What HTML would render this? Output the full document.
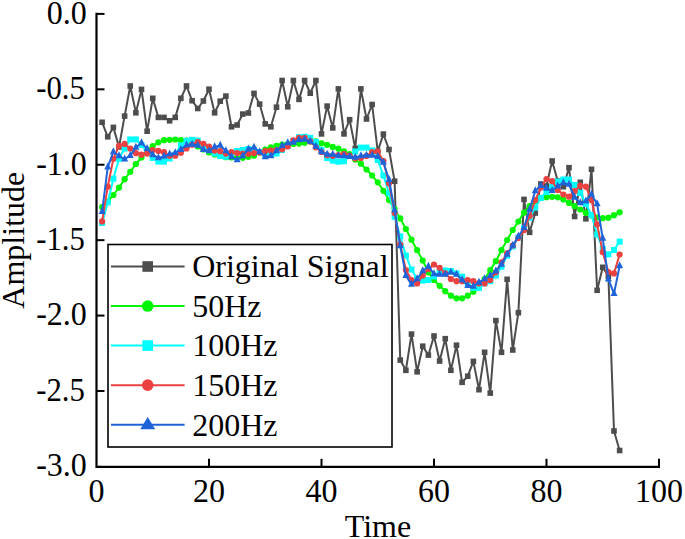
<!DOCTYPE html>
<html><head><meta charset="utf-8"><title>Amplitude vs Time</title>
<style>html,body{margin:0;padding:0;background:#fff;}body{width:685px;height:539px;overflow:hidden;}text{font-family:"Liberation Serif",serif;}</style>
</head><body>
<svg width="685" height="539" viewBox="0 0 685 539" style="display:block;font-family:'Liberation Serif',serif;font-size:32px;fill:#000">
<g><polyline points="102.12,122.30 107.75,136.80 113.38,127.40 119.00,147.00 124.62,116.10 130.25,86.00 135.88,112.80 141.50,89.40 147.12,131.20 152.75,98.30 158.38,117.40 164.00,117.40 169.62,120.80 175.25,117.40 180.88,98.30 186.50,86.00 192.12,100.70 197.75,108.50 203.38,101.00 209.00,89.20 214.62,112.80 220.25,101.20 225.88,96.10 231.50,126.80 237.12,125.00 242.75,114.10 248.38,113.00 254.00,93.40 259.62,104.10 265.25,123.90 270.88,126.80 276.50,107.20 282.12,80.50 287.75,106.80 293.38,80.50 299.00,99.40 304.62,80.50 310.25,93.20 315.88,80.50 321.50,133.90 327.12,106.10 332.75,127.90 338.38,88.90 344.00,133.90 349.62,119.70 355.25,148.40 360.88,88.90 366.50,119.00 372.12,104.50 377.75,151.30 383.38,134.10 389.00,149.50 394.62,181.20 400.25,360.10 405.88,370.30 411.50,334.10 417.12,371.80 422.75,346.20 428.38,355.10 434.00,336.00 439.62,361.00 445.25,338.70 450.88,370.30 456.50,345.20 462.12,382.30 467.75,376.20 473.38,361.40 479.00,389.70 484.62,352.30 490.25,393.10 495.88,320.60 501.50,352.30 507.12,279.30 512.75,350.00 518.38,312.70 524.00,199.40 529.62,232.30 535.25,213.00 540.88,184.00 546.50,186.00 552.12,161.00 557.75,181.00 563.38,186.70 569.00,167.70 574.62,216.50 580.25,182.30 585.88,218.80 591.50,169.30 597.12,290.30 602.75,267.30 608.38,276.20 614.00,431.00 619.62,450.50" fill="none" stroke="#4d4d4d" stroke-width="2.0" stroke-linejoin="round"/><rect x="99.33" y="119.50" width="5.6" height="5.6" fill="#4d4d4d"/><rect x="104.95" y="134.00" width="5.6" height="5.6" fill="#4d4d4d"/><rect x="110.58" y="124.60" width="5.6" height="5.6" fill="#4d4d4d"/><rect x="116.20" y="144.20" width="5.6" height="5.6" fill="#4d4d4d"/><rect x="121.83" y="113.30" width="5.6" height="5.6" fill="#4d4d4d"/><rect x="127.45" y="83.20" width="5.6" height="5.6" fill="#4d4d4d"/><rect x="133.07" y="110.00" width="5.6" height="5.6" fill="#4d4d4d"/><rect x="138.70" y="86.60" width="5.6" height="5.6" fill="#4d4d4d"/><rect x="144.32" y="128.40" width="5.6" height="5.6" fill="#4d4d4d"/><rect x="149.95" y="95.50" width="5.6" height="5.6" fill="#4d4d4d"/><rect x="155.57" y="114.60" width="5.6" height="5.6" fill="#4d4d4d"/><rect x="161.20" y="114.60" width="5.6" height="5.6" fill="#4d4d4d"/><rect x="166.82" y="118.00" width="5.6" height="5.6" fill="#4d4d4d"/><rect x="172.45" y="114.60" width="5.6" height="5.6" fill="#4d4d4d"/><rect x="178.07" y="95.50" width="5.6" height="5.6" fill="#4d4d4d"/><rect x="183.70" y="83.20" width="5.6" height="5.6" fill="#4d4d4d"/><rect x="189.32" y="97.90" width="5.6" height="5.6" fill="#4d4d4d"/><rect x="194.95" y="105.70" width="5.6" height="5.6" fill="#4d4d4d"/><rect x="200.57" y="98.20" width="5.6" height="5.6" fill="#4d4d4d"/><rect x="206.20" y="86.40" width="5.6" height="5.6" fill="#4d4d4d"/><rect x="211.82" y="110.00" width="5.6" height="5.6" fill="#4d4d4d"/><rect x="217.45" y="98.40" width="5.6" height="5.6" fill="#4d4d4d"/><rect x="223.07" y="93.30" width="5.6" height="5.6" fill="#4d4d4d"/><rect x="228.70" y="124.00" width="5.6" height="5.6" fill="#4d4d4d"/><rect x="234.32" y="122.20" width="5.6" height="5.6" fill="#4d4d4d"/><rect x="239.95" y="111.30" width="5.6" height="5.6" fill="#4d4d4d"/><rect x="245.57" y="110.20" width="5.6" height="5.6" fill="#4d4d4d"/><rect x="251.20" y="90.60" width="5.6" height="5.6" fill="#4d4d4d"/><rect x="256.82" y="101.30" width="5.6" height="5.6" fill="#4d4d4d"/><rect x="262.45" y="121.10" width="5.6" height="5.6" fill="#4d4d4d"/><rect x="268.07" y="124.00" width="5.6" height="5.6" fill="#4d4d4d"/><rect x="273.70" y="104.40" width="5.6" height="5.6" fill="#4d4d4d"/><rect x="279.32" y="77.70" width="5.6" height="5.6" fill="#4d4d4d"/><rect x="284.95" y="104.00" width="5.6" height="5.6" fill="#4d4d4d"/><rect x="290.57" y="77.70" width="5.6" height="5.6" fill="#4d4d4d"/><rect x="296.20" y="96.60" width="5.6" height="5.6" fill="#4d4d4d"/><rect x="301.82" y="77.70" width="5.6" height="5.6" fill="#4d4d4d"/><rect x="307.45" y="90.40" width="5.6" height="5.6" fill="#4d4d4d"/><rect x="313.07" y="77.70" width="5.6" height="5.6" fill="#4d4d4d"/><rect x="318.70" y="131.10" width="5.6" height="5.6" fill="#4d4d4d"/><rect x="324.32" y="103.30" width="5.6" height="5.6" fill="#4d4d4d"/><rect x="329.95" y="125.10" width="5.6" height="5.6" fill="#4d4d4d"/><rect x="335.57" y="86.10" width="5.6" height="5.6" fill="#4d4d4d"/><rect x="341.20" y="131.10" width="5.6" height="5.6" fill="#4d4d4d"/><rect x="346.82" y="116.90" width="5.6" height="5.6" fill="#4d4d4d"/><rect x="352.45" y="145.60" width="5.6" height="5.6" fill="#4d4d4d"/><rect x="358.07" y="86.10" width="5.6" height="5.6" fill="#4d4d4d"/><rect x="363.70" y="116.20" width="5.6" height="5.6" fill="#4d4d4d"/><rect x="369.32" y="101.70" width="5.6" height="5.6" fill="#4d4d4d"/><rect x="374.95" y="148.50" width="5.6" height="5.6" fill="#4d4d4d"/><rect x="380.57" y="131.30" width="5.6" height="5.6" fill="#4d4d4d"/><rect x="386.20" y="146.70" width="5.6" height="5.6" fill="#4d4d4d"/><rect x="391.82" y="178.40" width="5.6" height="5.6" fill="#4d4d4d"/><rect x="397.45" y="357.30" width="5.6" height="5.6" fill="#4d4d4d"/><rect x="403.07" y="367.50" width="5.6" height="5.6" fill="#4d4d4d"/><rect x="408.70" y="331.30" width="5.6" height="5.6" fill="#4d4d4d"/><rect x="414.32" y="369.00" width="5.6" height="5.6" fill="#4d4d4d"/><rect x="419.95" y="343.40" width="5.6" height="5.6" fill="#4d4d4d"/><rect x="425.57" y="352.30" width="5.6" height="5.6" fill="#4d4d4d"/><rect x="431.20" y="333.20" width="5.6" height="5.6" fill="#4d4d4d"/><rect x="436.82" y="358.20" width="5.6" height="5.6" fill="#4d4d4d"/><rect x="442.45" y="335.90" width="5.6" height="5.6" fill="#4d4d4d"/><rect x="448.07" y="367.50" width="5.6" height="5.6" fill="#4d4d4d"/><rect x="453.70" y="342.40" width="5.6" height="5.6" fill="#4d4d4d"/><rect x="459.32" y="379.50" width="5.6" height="5.6" fill="#4d4d4d"/><rect x="464.95" y="373.40" width="5.6" height="5.6" fill="#4d4d4d"/><rect x="470.57" y="358.60" width="5.6" height="5.6" fill="#4d4d4d"/><rect x="476.20" y="386.90" width="5.6" height="5.6" fill="#4d4d4d"/><rect x="481.82" y="349.50" width="5.6" height="5.6" fill="#4d4d4d"/><rect x="487.45" y="390.30" width="5.6" height="5.6" fill="#4d4d4d"/><rect x="493.07" y="317.80" width="5.6" height="5.6" fill="#4d4d4d"/><rect x="498.70" y="349.50" width="5.6" height="5.6" fill="#4d4d4d"/><rect x="504.32" y="276.50" width="5.6" height="5.6" fill="#4d4d4d"/><rect x="509.95" y="347.20" width="5.6" height="5.6" fill="#4d4d4d"/><rect x="515.58" y="309.90" width="5.6" height="5.6" fill="#4d4d4d"/><rect x="521.20" y="196.60" width="5.6" height="5.6" fill="#4d4d4d"/><rect x="526.83" y="229.50" width="5.6" height="5.6" fill="#4d4d4d"/><rect x="532.45" y="210.20" width="5.6" height="5.6" fill="#4d4d4d"/><rect x="538.08" y="181.20" width="5.6" height="5.6" fill="#4d4d4d"/><rect x="543.70" y="183.20" width="5.6" height="5.6" fill="#4d4d4d"/><rect x="549.33" y="158.20" width="5.6" height="5.6" fill="#4d4d4d"/><rect x="554.95" y="178.20" width="5.6" height="5.6" fill="#4d4d4d"/><rect x="560.58" y="183.90" width="5.6" height="5.6" fill="#4d4d4d"/><rect x="566.20" y="164.90" width="5.6" height="5.6" fill="#4d4d4d"/><rect x="571.83" y="213.70" width="5.6" height="5.6" fill="#4d4d4d"/><rect x="577.45" y="179.50" width="5.6" height="5.6" fill="#4d4d4d"/><rect x="583.08" y="216.00" width="5.6" height="5.6" fill="#4d4d4d"/><rect x="588.70" y="166.50" width="5.6" height="5.6" fill="#4d4d4d"/><rect x="594.33" y="287.50" width="5.6" height="5.6" fill="#4d4d4d"/><rect x="599.95" y="264.50" width="5.6" height="5.6" fill="#4d4d4d"/><rect x="605.58" y="273.40" width="5.6" height="5.6" fill="#4d4d4d"/><rect x="611.20" y="428.20" width="5.6" height="5.6" fill="#4d4d4d"/><rect x="616.83" y="447.70" width="5.6" height="5.6" fill="#4d4d4d"/><polyline points="102.12,207.10 107.75,201.50 113.38,195.00 119.00,187.60 124.62,179.20 130.25,171.80 135.88,164.00 141.50,157.50 147.12,150.40 152.75,146.00 158.38,142.30 164.00,140.20 169.62,139.80 175.25,139.50 180.88,140.20 186.50,140.70 192.12,143.00 197.75,146.50 203.38,149.50 209.00,152.50 214.62,154.50 220.25,156.00 225.88,157.20 231.50,157.50 237.12,157.50 242.75,157.80 248.38,156.80 254.00,155.70 259.62,152.50 265.25,149.50 270.88,147.30 276.50,145.80 282.12,144.50 287.75,144.00 293.38,144.00 299.00,143.60 304.62,142.80 310.25,141.50 315.88,141.30 321.50,143.30 327.12,144.80 332.75,146.90 338.38,148.70 344.00,151.30 349.62,154.00 355.25,159.60 360.88,163.70 366.50,169.50 372.12,175.50 377.75,182.30 383.38,190.80 389.00,200.10 394.62,209.00 400.25,218.40 405.88,229.00 411.50,239.70 417.12,250.20 422.75,260.50 428.38,272.30 434.00,280.00 439.62,285.80 445.25,291.20 450.88,295.70 456.50,298.30 462.12,298.30 467.75,295.70 473.38,291.70 479.00,285.60 484.62,279.00 490.25,270.00 495.88,261.20 501.50,250.00 507.12,240.00 512.75,230.00 518.38,221.50 524.00,212.60 529.62,206.00 535.25,201.00 540.88,197.80 546.50,197.20 552.12,196.80 557.75,197.30 563.38,199.50 569.00,202.90 574.62,206.20 580.25,209.50 585.88,212.90 591.50,215.50 597.12,217.50 602.75,218.20 608.38,217.70 614.00,215.20 619.62,212.30" fill="none" stroke="#00f500" stroke-width="2.0" stroke-linejoin="round"/><circle cx="102.12" cy="207.10" r="3.1" fill="#00f500"/><circle cx="107.75" cy="201.50" r="3.1" fill="#00f500"/><circle cx="113.38" cy="195.00" r="3.1" fill="#00f500"/><circle cx="119.00" cy="187.60" r="3.1" fill="#00f500"/><circle cx="124.62" cy="179.20" r="3.1" fill="#00f500"/><circle cx="130.25" cy="171.80" r="3.1" fill="#00f500"/><circle cx="135.88" cy="164.00" r="3.1" fill="#00f500"/><circle cx="141.50" cy="157.50" r="3.1" fill="#00f500"/><circle cx="147.12" cy="150.40" r="3.1" fill="#00f500"/><circle cx="152.75" cy="146.00" r="3.1" fill="#00f500"/><circle cx="158.38" cy="142.30" r="3.1" fill="#00f500"/><circle cx="164.00" cy="140.20" r="3.1" fill="#00f500"/><circle cx="169.62" cy="139.80" r="3.1" fill="#00f500"/><circle cx="175.25" cy="139.50" r="3.1" fill="#00f500"/><circle cx="180.88" cy="140.20" r="3.1" fill="#00f500"/><circle cx="186.50" cy="140.70" r="3.1" fill="#00f500"/><circle cx="192.12" cy="143.00" r="3.1" fill="#00f500"/><circle cx="197.75" cy="146.50" r="3.1" fill="#00f500"/><circle cx="203.38" cy="149.50" r="3.1" fill="#00f500"/><circle cx="209.00" cy="152.50" r="3.1" fill="#00f500"/><circle cx="214.62" cy="154.50" r="3.1" fill="#00f500"/><circle cx="220.25" cy="156.00" r="3.1" fill="#00f500"/><circle cx="225.88" cy="157.20" r="3.1" fill="#00f500"/><circle cx="231.50" cy="157.50" r="3.1" fill="#00f500"/><circle cx="237.12" cy="157.50" r="3.1" fill="#00f500"/><circle cx="242.75" cy="157.80" r="3.1" fill="#00f500"/><circle cx="248.38" cy="156.80" r="3.1" fill="#00f500"/><circle cx="254.00" cy="155.70" r="3.1" fill="#00f500"/><circle cx="259.62" cy="152.50" r="3.1" fill="#00f500"/><circle cx="265.25" cy="149.50" r="3.1" fill="#00f500"/><circle cx="270.88" cy="147.30" r="3.1" fill="#00f500"/><circle cx="276.50" cy="145.80" r="3.1" fill="#00f500"/><circle cx="282.12" cy="144.50" r="3.1" fill="#00f500"/><circle cx="287.75" cy="144.00" r="3.1" fill="#00f500"/><circle cx="293.38" cy="144.00" r="3.1" fill="#00f500"/><circle cx="299.00" cy="143.60" r="3.1" fill="#00f500"/><circle cx="304.62" cy="142.80" r="3.1" fill="#00f500"/><circle cx="310.25" cy="141.50" r="3.1" fill="#00f500"/><circle cx="315.88" cy="141.30" r="3.1" fill="#00f500"/><circle cx="321.50" cy="143.30" r="3.1" fill="#00f500"/><circle cx="327.12" cy="144.80" r="3.1" fill="#00f500"/><circle cx="332.75" cy="146.90" r="3.1" fill="#00f500"/><circle cx="338.38" cy="148.70" r="3.1" fill="#00f500"/><circle cx="344.00" cy="151.30" r="3.1" fill="#00f500"/><circle cx="349.62" cy="154.00" r="3.1" fill="#00f500"/><circle cx="355.25" cy="159.60" r="3.1" fill="#00f500"/><circle cx="360.88" cy="163.70" r="3.1" fill="#00f500"/><circle cx="366.50" cy="169.50" r="3.1" fill="#00f500"/><circle cx="372.12" cy="175.50" r="3.1" fill="#00f500"/><circle cx="377.75" cy="182.30" r="3.1" fill="#00f500"/><circle cx="383.38" cy="190.80" r="3.1" fill="#00f500"/><circle cx="389.00" cy="200.10" r="3.1" fill="#00f500"/><circle cx="394.62" cy="209.00" r="3.1" fill="#00f500"/><circle cx="400.25" cy="218.40" r="3.1" fill="#00f500"/><circle cx="405.88" cy="229.00" r="3.1" fill="#00f500"/><circle cx="411.50" cy="239.70" r="3.1" fill="#00f500"/><circle cx="417.12" cy="250.20" r="3.1" fill="#00f500"/><circle cx="422.75" cy="260.50" r="3.1" fill="#00f500"/><circle cx="428.38" cy="272.30" r="3.1" fill="#00f500"/><circle cx="434.00" cy="280.00" r="3.1" fill="#00f500"/><circle cx="439.62" cy="285.80" r="3.1" fill="#00f500"/><circle cx="445.25" cy="291.20" r="3.1" fill="#00f500"/><circle cx="450.88" cy="295.70" r="3.1" fill="#00f500"/><circle cx="456.50" cy="298.30" r="3.1" fill="#00f500"/><circle cx="462.12" cy="298.30" r="3.1" fill="#00f500"/><circle cx="467.75" cy="295.70" r="3.1" fill="#00f500"/><circle cx="473.38" cy="291.70" r="3.1" fill="#00f500"/><circle cx="479.00" cy="285.60" r="3.1" fill="#00f500"/><circle cx="484.62" cy="279.00" r="3.1" fill="#00f500"/><circle cx="490.25" cy="270.00" r="3.1" fill="#00f500"/><circle cx="495.88" cy="261.20" r="3.1" fill="#00f500"/><circle cx="501.50" cy="250.00" r="3.1" fill="#00f500"/><circle cx="507.12" cy="240.00" r="3.1" fill="#00f500"/><circle cx="512.75" cy="230.00" r="3.1" fill="#00f500"/><circle cx="518.38" cy="221.50" r="3.1" fill="#00f500"/><circle cx="524.00" cy="212.60" r="3.1" fill="#00f500"/><circle cx="529.62" cy="206.00" r="3.1" fill="#00f500"/><circle cx="535.25" cy="201.00" r="3.1" fill="#00f500"/><circle cx="540.88" cy="197.80" r="3.1" fill="#00f500"/><circle cx="546.50" cy="197.20" r="3.1" fill="#00f500"/><circle cx="552.12" cy="196.80" r="3.1" fill="#00f500"/><circle cx="557.75" cy="197.30" r="3.1" fill="#00f500"/><circle cx="563.38" cy="199.50" r="3.1" fill="#00f500"/><circle cx="569.00" cy="202.90" r="3.1" fill="#00f500"/><circle cx="574.62" cy="206.20" r="3.1" fill="#00f500"/><circle cx="580.25" cy="209.50" r="3.1" fill="#00f500"/><circle cx="585.88" cy="212.90" r="3.1" fill="#00f500"/><circle cx="591.50" cy="215.50" r="3.1" fill="#00f500"/><circle cx="597.12" cy="217.50" r="3.1" fill="#00f500"/><circle cx="602.75" cy="218.20" r="3.1" fill="#00f500"/><circle cx="608.38" cy="217.70" r="3.1" fill="#00f500"/><circle cx="614.00" cy="215.20" r="3.1" fill="#00f500"/><circle cx="619.62" cy="212.30" r="3.1" fill="#00f500"/><polyline points="102.12,222.90 107.75,202.40 113.38,178.70 119.00,158.80 124.62,148.60 130.25,139.40 135.88,139.40 141.50,144.90 147.12,152.30 152.75,157.90 158.38,161.60 164.00,161.60 169.62,158.50 175.25,154.50 180.88,145.30 186.50,140.80 192.12,139.80 197.75,140.50 203.38,146.00 209.00,150.20 214.62,153.50 220.25,156.00 225.88,156.80 231.50,153.00 237.12,151.00 242.75,150.00 248.38,149.00 254.00,150.00 259.62,152.00 265.25,154.60 270.88,154.50 276.50,153.50 282.12,150.00 287.75,146.00 293.38,141.00 299.00,137.20 304.62,136.80 310.25,137.80 315.88,141.90 321.50,150.00 327.12,158.10 332.75,160.70 338.38,161.70 344.00,161.20 349.62,156.00 355.25,151.50 360.88,147.60 366.50,147.60 372.12,150.40 377.75,160.00 383.38,175.50 389.00,193.00 394.62,216.80 400.25,236.40 405.88,255.60 411.50,269.50 417.12,279.00 422.75,280.60 428.38,280.00 434.00,276.50 439.62,272.00 445.25,270.50 450.88,271.00 456.50,273.40 462.12,276.70 467.75,283.40 473.38,287.90 479.00,287.90 484.62,283.40 490.25,281.20 495.88,275.60 501.50,266.70 507.12,255.60 512.75,246.50 518.38,237.50 524.00,228.50 529.62,217.70 535.25,207.60 540.88,198.00 546.50,192.00 552.12,187.00 557.75,181.50 563.38,179.50 569.00,179.50 574.62,185.00 580.25,193.00 585.88,204.00 591.50,215.00 597.12,234.40 602.75,248.90 608.38,254.40 614.00,250.00 619.62,241.60" fill="none" stroke="#00ffff" stroke-width="2.0" stroke-linejoin="round"/><rect x="99.12" y="219.90" width="6.0" height="6.0" fill="#00ffff"/><rect x="104.75" y="199.40" width="6.0" height="6.0" fill="#00ffff"/><rect x="110.38" y="175.70" width="6.0" height="6.0" fill="#00ffff"/><rect x="116.00" y="155.80" width="6.0" height="6.0" fill="#00ffff"/><rect x="121.62" y="145.60" width="6.0" height="6.0" fill="#00ffff"/><rect x="127.25" y="136.40" width="6.0" height="6.0" fill="#00ffff"/><rect x="132.88" y="136.40" width="6.0" height="6.0" fill="#00ffff"/><rect x="138.50" y="141.90" width="6.0" height="6.0" fill="#00ffff"/><rect x="144.12" y="149.30" width="6.0" height="6.0" fill="#00ffff"/><rect x="149.75" y="154.90" width="6.0" height="6.0" fill="#00ffff"/><rect x="155.38" y="158.60" width="6.0" height="6.0" fill="#00ffff"/><rect x="161.00" y="158.60" width="6.0" height="6.0" fill="#00ffff"/><rect x="166.62" y="155.50" width="6.0" height="6.0" fill="#00ffff"/><rect x="172.25" y="151.50" width="6.0" height="6.0" fill="#00ffff"/><rect x="177.88" y="142.30" width="6.0" height="6.0" fill="#00ffff"/><rect x="183.50" y="137.80" width="6.0" height="6.0" fill="#00ffff"/><rect x="189.12" y="136.80" width="6.0" height="6.0" fill="#00ffff"/><rect x="194.75" y="137.50" width="6.0" height="6.0" fill="#00ffff"/><rect x="200.38" y="143.00" width="6.0" height="6.0" fill="#00ffff"/><rect x="206.00" y="147.20" width="6.0" height="6.0" fill="#00ffff"/><rect x="211.62" y="150.50" width="6.0" height="6.0" fill="#00ffff"/><rect x="217.25" y="153.00" width="6.0" height="6.0" fill="#00ffff"/><rect x="222.88" y="153.80" width="6.0" height="6.0" fill="#00ffff"/><rect x="228.50" y="150.00" width="6.0" height="6.0" fill="#00ffff"/><rect x="234.12" y="148.00" width="6.0" height="6.0" fill="#00ffff"/><rect x="239.75" y="147.00" width="6.0" height="6.0" fill="#00ffff"/><rect x="245.38" y="146.00" width="6.0" height="6.0" fill="#00ffff"/><rect x="251.00" y="147.00" width="6.0" height="6.0" fill="#00ffff"/><rect x="256.62" y="149.00" width="6.0" height="6.0" fill="#00ffff"/><rect x="262.25" y="151.60" width="6.0" height="6.0" fill="#00ffff"/><rect x="267.88" y="151.50" width="6.0" height="6.0" fill="#00ffff"/><rect x="273.50" y="150.50" width="6.0" height="6.0" fill="#00ffff"/><rect x="279.12" y="147.00" width="6.0" height="6.0" fill="#00ffff"/><rect x="284.75" y="143.00" width="6.0" height="6.0" fill="#00ffff"/><rect x="290.38" y="138.00" width="6.0" height="6.0" fill="#00ffff"/><rect x="296.00" y="134.20" width="6.0" height="6.0" fill="#00ffff"/><rect x="301.62" y="133.80" width="6.0" height="6.0" fill="#00ffff"/><rect x="307.25" y="134.80" width="6.0" height="6.0" fill="#00ffff"/><rect x="312.88" y="138.90" width="6.0" height="6.0" fill="#00ffff"/><rect x="318.50" y="147.00" width="6.0" height="6.0" fill="#00ffff"/><rect x="324.12" y="155.10" width="6.0" height="6.0" fill="#00ffff"/><rect x="329.75" y="157.70" width="6.0" height="6.0" fill="#00ffff"/><rect x="335.38" y="158.70" width="6.0" height="6.0" fill="#00ffff"/><rect x="341.00" y="158.20" width="6.0" height="6.0" fill="#00ffff"/><rect x="346.62" y="153.00" width="6.0" height="6.0" fill="#00ffff"/><rect x="352.25" y="148.50" width="6.0" height="6.0" fill="#00ffff"/><rect x="357.88" y="144.60" width="6.0" height="6.0" fill="#00ffff"/><rect x="363.50" y="144.60" width="6.0" height="6.0" fill="#00ffff"/><rect x="369.12" y="147.40" width="6.0" height="6.0" fill="#00ffff"/><rect x="374.75" y="157.00" width="6.0" height="6.0" fill="#00ffff"/><rect x="380.38" y="172.50" width="6.0" height="6.0" fill="#00ffff"/><rect x="386.00" y="190.00" width="6.0" height="6.0" fill="#00ffff"/><rect x="391.62" y="213.80" width="6.0" height="6.0" fill="#00ffff"/><rect x="397.25" y="233.40" width="6.0" height="6.0" fill="#00ffff"/><rect x="402.88" y="252.60" width="6.0" height="6.0" fill="#00ffff"/><rect x="408.50" y="266.50" width="6.0" height="6.0" fill="#00ffff"/><rect x="414.12" y="276.00" width="6.0" height="6.0" fill="#00ffff"/><rect x="419.75" y="277.60" width="6.0" height="6.0" fill="#00ffff"/><rect x="425.38" y="277.00" width="6.0" height="6.0" fill="#00ffff"/><rect x="431.00" y="273.50" width="6.0" height="6.0" fill="#00ffff"/><rect x="436.62" y="269.00" width="6.0" height="6.0" fill="#00ffff"/><rect x="442.25" y="267.50" width="6.0" height="6.0" fill="#00ffff"/><rect x="447.88" y="268.00" width="6.0" height="6.0" fill="#00ffff"/><rect x="453.50" y="270.40" width="6.0" height="6.0" fill="#00ffff"/><rect x="459.12" y="273.70" width="6.0" height="6.0" fill="#00ffff"/><rect x="464.75" y="280.40" width="6.0" height="6.0" fill="#00ffff"/><rect x="470.38" y="284.90" width="6.0" height="6.0" fill="#00ffff"/><rect x="476.00" y="284.90" width="6.0" height="6.0" fill="#00ffff"/><rect x="481.62" y="280.40" width="6.0" height="6.0" fill="#00ffff"/><rect x="487.25" y="278.20" width="6.0" height="6.0" fill="#00ffff"/><rect x="492.88" y="272.60" width="6.0" height="6.0" fill="#00ffff"/><rect x="498.50" y="263.70" width="6.0" height="6.0" fill="#00ffff"/><rect x="504.12" y="252.60" width="6.0" height="6.0" fill="#00ffff"/><rect x="509.75" y="243.50" width="6.0" height="6.0" fill="#00ffff"/><rect x="515.38" y="234.50" width="6.0" height="6.0" fill="#00ffff"/><rect x="521.00" y="225.50" width="6.0" height="6.0" fill="#00ffff"/><rect x="526.62" y="214.70" width="6.0" height="6.0" fill="#00ffff"/><rect x="532.25" y="204.60" width="6.0" height="6.0" fill="#00ffff"/><rect x="537.88" y="195.00" width="6.0" height="6.0" fill="#00ffff"/><rect x="543.50" y="189.00" width="6.0" height="6.0" fill="#00ffff"/><rect x="549.12" y="184.00" width="6.0" height="6.0" fill="#00ffff"/><rect x="554.75" y="178.50" width="6.0" height="6.0" fill="#00ffff"/><rect x="560.38" y="176.50" width="6.0" height="6.0" fill="#00ffff"/><rect x="566.00" y="176.50" width="6.0" height="6.0" fill="#00ffff"/><rect x="571.62" y="182.00" width="6.0" height="6.0" fill="#00ffff"/><rect x="577.25" y="190.00" width="6.0" height="6.0" fill="#00ffff"/><rect x="582.88" y="201.00" width="6.0" height="6.0" fill="#00ffff"/><rect x="588.50" y="212.00" width="6.0" height="6.0" fill="#00ffff"/><rect x="594.12" y="231.40" width="6.0" height="6.0" fill="#00ffff"/><rect x="599.75" y="245.90" width="6.0" height="6.0" fill="#00ffff"/><rect x="605.38" y="251.40" width="6.0" height="6.0" fill="#00ffff"/><rect x="611.00" y="247.00" width="6.0" height="6.0" fill="#00ffff"/><rect x="616.62" y="238.60" width="6.0" height="6.0" fill="#00ffff"/><polyline points="102.12,221.40 107.75,186.70 113.38,158.80 119.00,145.80 124.62,143.90 130.25,148.60 135.88,153.20 141.50,154.70 147.12,153.60 152.75,150.00 158.38,150.90 164.00,152.20 169.62,155.80 175.25,155.70 180.88,152.70 186.50,148.40 192.12,144.70 197.75,142.00 203.38,143.80 209.00,146.50 214.62,150.60 220.25,151.20 225.88,153.60 231.50,152.00 237.12,153.00 242.75,153.50 248.38,153.80 254.00,153.10 259.62,152.50 265.25,151.00 270.88,150.50 276.50,150.00 282.12,149.30 287.75,146.50 293.38,140.30 299.00,137.80 304.62,137.80 310.25,141.40 315.88,147.30 321.50,152.00 327.12,155.20 332.75,155.80 338.38,155.00 344.00,154.00 349.62,155.50 355.25,158.30 360.88,158.00 366.50,156.00 372.12,152.00 377.75,151.50 383.38,161.00 389.00,183.40 394.62,213.00 400.25,244.50 405.88,270.00 411.50,280.00 417.12,283.40 422.75,275.60 428.38,269.00 434.00,264.50 439.62,267.80 445.25,273.40 450.88,279.00 456.50,281.20 462.12,281.20 467.75,280.00 473.38,281.20 479.00,283.40 484.62,283.40 490.25,280.00 495.88,272.30 501.50,262.30 507.12,253.40 512.75,245.50 518.38,238.00 524.00,230.20 529.62,216.00 535.25,200.10 540.88,187.60 546.50,179.00 552.12,181.20 557.75,190.00 563.38,194.50 569.00,196.70 574.62,191.20 580.25,185.60 585.88,186.70 591.50,200.00 597.12,224.40 602.75,252.20 608.38,272.00 614.00,273.40 619.62,254.50" fill="none" stroke="#eb4141" stroke-width="2.0" stroke-linejoin="round"/><circle cx="102.12" cy="221.40" r="3.1" fill="#eb4141"/><circle cx="107.75" cy="186.70" r="3.1" fill="#eb4141"/><circle cx="113.38" cy="158.80" r="3.1" fill="#eb4141"/><circle cx="119.00" cy="145.80" r="3.1" fill="#eb4141"/><circle cx="124.62" cy="143.90" r="3.1" fill="#eb4141"/><circle cx="130.25" cy="148.60" r="3.1" fill="#eb4141"/><circle cx="135.88" cy="153.20" r="3.1" fill="#eb4141"/><circle cx="141.50" cy="154.70" r="3.1" fill="#eb4141"/><circle cx="147.12" cy="153.60" r="3.1" fill="#eb4141"/><circle cx="152.75" cy="150.00" r="3.1" fill="#eb4141"/><circle cx="158.38" cy="150.90" r="3.1" fill="#eb4141"/><circle cx="164.00" cy="152.20" r="3.1" fill="#eb4141"/><circle cx="169.62" cy="155.80" r="3.1" fill="#eb4141"/><circle cx="175.25" cy="155.70" r="3.1" fill="#eb4141"/><circle cx="180.88" cy="152.70" r="3.1" fill="#eb4141"/><circle cx="186.50" cy="148.40" r="3.1" fill="#eb4141"/><circle cx="192.12" cy="144.70" r="3.1" fill="#eb4141"/><circle cx="197.75" cy="142.00" r="3.1" fill="#eb4141"/><circle cx="203.38" cy="143.80" r="3.1" fill="#eb4141"/><circle cx="209.00" cy="146.50" r="3.1" fill="#eb4141"/><circle cx="214.62" cy="150.60" r="3.1" fill="#eb4141"/><circle cx="220.25" cy="151.20" r="3.1" fill="#eb4141"/><circle cx="225.88" cy="153.60" r="3.1" fill="#eb4141"/><circle cx="231.50" cy="152.00" r="3.1" fill="#eb4141"/><circle cx="237.12" cy="153.00" r="3.1" fill="#eb4141"/><circle cx="242.75" cy="153.50" r="3.1" fill="#eb4141"/><circle cx="248.38" cy="153.80" r="3.1" fill="#eb4141"/><circle cx="254.00" cy="153.10" r="3.1" fill="#eb4141"/><circle cx="259.62" cy="152.50" r="3.1" fill="#eb4141"/><circle cx="265.25" cy="151.00" r="3.1" fill="#eb4141"/><circle cx="270.88" cy="150.50" r="3.1" fill="#eb4141"/><circle cx="276.50" cy="150.00" r="3.1" fill="#eb4141"/><circle cx="282.12" cy="149.30" r="3.1" fill="#eb4141"/><circle cx="287.75" cy="146.50" r="3.1" fill="#eb4141"/><circle cx="293.38" cy="140.30" r="3.1" fill="#eb4141"/><circle cx="299.00" cy="137.80" r="3.1" fill="#eb4141"/><circle cx="304.62" cy="137.80" r="3.1" fill="#eb4141"/><circle cx="310.25" cy="141.40" r="3.1" fill="#eb4141"/><circle cx="315.88" cy="147.30" r="3.1" fill="#eb4141"/><circle cx="321.50" cy="152.00" r="3.1" fill="#eb4141"/><circle cx="327.12" cy="155.20" r="3.1" fill="#eb4141"/><circle cx="332.75" cy="155.80" r="3.1" fill="#eb4141"/><circle cx="338.38" cy="155.00" r="3.1" fill="#eb4141"/><circle cx="344.00" cy="154.00" r="3.1" fill="#eb4141"/><circle cx="349.62" cy="155.50" r="3.1" fill="#eb4141"/><circle cx="355.25" cy="158.30" r="3.1" fill="#eb4141"/><circle cx="360.88" cy="158.00" r="3.1" fill="#eb4141"/><circle cx="366.50" cy="156.00" r="3.1" fill="#eb4141"/><circle cx="372.12" cy="152.00" r="3.1" fill="#eb4141"/><circle cx="377.75" cy="151.50" r="3.1" fill="#eb4141"/><circle cx="383.38" cy="161.00" r="3.1" fill="#eb4141"/><circle cx="389.00" cy="183.40" r="3.1" fill="#eb4141"/><circle cx="394.62" cy="213.00" r="3.1" fill="#eb4141"/><circle cx="400.25" cy="244.50" r="3.1" fill="#eb4141"/><circle cx="405.88" cy="270.00" r="3.1" fill="#eb4141"/><circle cx="411.50" cy="280.00" r="3.1" fill="#eb4141"/><circle cx="417.12" cy="283.40" r="3.1" fill="#eb4141"/><circle cx="422.75" cy="275.60" r="3.1" fill="#eb4141"/><circle cx="428.38" cy="269.00" r="3.1" fill="#eb4141"/><circle cx="434.00" cy="264.50" r="3.1" fill="#eb4141"/><circle cx="439.62" cy="267.80" r="3.1" fill="#eb4141"/><circle cx="445.25" cy="273.40" r="3.1" fill="#eb4141"/><circle cx="450.88" cy="279.00" r="3.1" fill="#eb4141"/><circle cx="456.50" cy="281.20" r="3.1" fill="#eb4141"/><circle cx="462.12" cy="281.20" r="3.1" fill="#eb4141"/><circle cx="467.75" cy="280.00" r="3.1" fill="#eb4141"/><circle cx="473.38" cy="281.20" r="3.1" fill="#eb4141"/><circle cx="479.00" cy="283.40" r="3.1" fill="#eb4141"/><circle cx="484.62" cy="283.40" r="3.1" fill="#eb4141"/><circle cx="490.25" cy="280.00" r="3.1" fill="#eb4141"/><circle cx="495.88" cy="272.30" r="3.1" fill="#eb4141"/><circle cx="501.50" cy="262.30" r="3.1" fill="#eb4141"/><circle cx="507.12" cy="253.40" r="3.1" fill="#eb4141"/><circle cx="512.75" cy="245.50" r="3.1" fill="#eb4141"/><circle cx="518.38" cy="238.00" r="3.1" fill="#eb4141"/><circle cx="524.00" cy="230.20" r="3.1" fill="#eb4141"/><circle cx="529.62" cy="216.00" r="3.1" fill="#eb4141"/><circle cx="535.25" cy="200.10" r="3.1" fill="#eb4141"/><circle cx="540.88" cy="187.60" r="3.1" fill="#eb4141"/><circle cx="546.50" cy="179.00" r="3.1" fill="#eb4141"/><circle cx="552.12" cy="181.20" r="3.1" fill="#eb4141"/><circle cx="557.75" cy="190.00" r="3.1" fill="#eb4141"/><circle cx="563.38" cy="194.50" r="3.1" fill="#eb4141"/><circle cx="569.00" cy="196.70" r="3.1" fill="#eb4141"/><circle cx="574.62" cy="191.20" r="3.1" fill="#eb4141"/><circle cx="580.25" cy="185.60" r="3.1" fill="#eb4141"/><circle cx="585.88" cy="186.70" r="3.1" fill="#eb4141"/><circle cx="591.50" cy="200.00" r="3.1" fill="#eb4141"/><circle cx="597.12" cy="224.40" r="3.1" fill="#eb4141"/><circle cx="602.75" cy="252.20" r="3.1" fill="#eb4141"/><circle cx="608.38" cy="272.00" r="3.1" fill="#eb4141"/><circle cx="614.00" cy="273.40" r="3.1" fill="#eb4141"/><circle cx="619.62" cy="254.50" r="3.1" fill="#eb4141"/><polyline points="102.12,211.70 107.75,167.20 113.38,151.90 119.00,156.00 124.62,159.20 130.25,155.60 135.88,147.50 141.50,143.00 147.12,148.60 152.75,155.00 158.38,158.00 164.00,156.50 169.62,154.20 175.25,152.80 180.88,149.60 186.50,145.10 192.12,144.50 197.75,145.50 203.38,149.60 209.00,151.00 214.62,147.00 220.25,145.50 225.88,151.00 231.50,157.00 237.12,160.00 242.75,156.00 248.38,149.20 254.00,147.50 259.62,152.00 265.25,157.00 270.88,156.00 276.50,151.00 282.12,145.60 287.75,143.00 293.38,142.50 299.00,140.00 304.62,139.50 310.25,141.50 315.88,146.30 321.50,152.00 327.12,154.50 332.75,154.50 338.38,156.00 344.00,156.00 349.62,156.60 355.25,157.50 360.88,155.80 366.50,155.50 372.12,155.50 377.75,156.70 383.38,162.30 389.00,179.60 394.62,210.10 400.25,246.00 405.88,275.60 411.50,284.50 417.12,279.00 422.75,271.00 428.38,266.30 434.00,274.00 439.62,274.50 445.25,274.50 450.88,272.30 456.50,274.50 462.12,280.00 467.75,285.60 473.38,286.30 479.00,282.30 484.62,279.00 490.25,275.60 495.88,271.20 501.50,264.50 507.12,254.50 512.75,245.50 518.38,236.50 524.00,227.70 529.62,209.30 535.25,191.00 540.88,185.60 546.50,188.40 552.12,190.60 557.75,186.20 563.38,183.00 569.00,184.50 574.62,197.30 580.25,202.90 585.88,201.20 591.50,194.50 597.12,204.00 602.75,238.40 608.38,279.20 614.00,293.60 619.62,266.00" fill="none" stroke="#1f63d9" stroke-width="2.0" stroke-linejoin="round"/><polygon points="102.12,207.03 98.62,214.03 105.62,214.03" fill="#1f63d9"/><polygon points="107.75,162.53 104.25,169.53 111.25,169.53" fill="#1f63d9"/><polygon points="113.38,147.23 109.88,154.23 116.88,154.23" fill="#1f63d9"/><polygon points="119.00,151.33 115.50,158.33 122.50,158.33" fill="#1f63d9"/><polygon points="124.62,154.53 121.12,161.53 128.12,161.53" fill="#1f63d9"/><polygon points="130.25,150.93 126.75,157.93 133.75,157.93" fill="#1f63d9"/><polygon points="135.88,142.83 132.38,149.83 139.38,149.83" fill="#1f63d9"/><polygon points="141.50,138.33 138.00,145.33 145.00,145.33" fill="#1f63d9"/><polygon points="147.12,143.93 143.62,150.93 150.62,150.93" fill="#1f63d9"/><polygon points="152.75,150.33 149.25,157.33 156.25,157.33" fill="#1f63d9"/><polygon points="158.38,153.33 154.88,160.33 161.88,160.33" fill="#1f63d9"/><polygon points="164.00,151.83 160.50,158.83 167.50,158.83" fill="#1f63d9"/><polygon points="169.62,149.53 166.12,156.53 173.12,156.53" fill="#1f63d9"/><polygon points="175.25,148.13 171.75,155.13 178.75,155.13" fill="#1f63d9"/><polygon points="180.88,144.93 177.38,151.93 184.38,151.93" fill="#1f63d9"/><polygon points="186.50,140.43 183.00,147.43 190.00,147.43" fill="#1f63d9"/><polygon points="192.12,139.83 188.62,146.83 195.62,146.83" fill="#1f63d9"/><polygon points="197.75,140.83 194.25,147.83 201.25,147.83" fill="#1f63d9"/><polygon points="203.38,144.93 199.88,151.93 206.88,151.93" fill="#1f63d9"/><polygon points="209.00,146.33 205.50,153.33 212.50,153.33" fill="#1f63d9"/><polygon points="214.62,142.33 211.12,149.33 218.12,149.33" fill="#1f63d9"/><polygon points="220.25,140.83 216.75,147.83 223.75,147.83" fill="#1f63d9"/><polygon points="225.88,146.33 222.38,153.33 229.38,153.33" fill="#1f63d9"/><polygon points="231.50,152.33 228.00,159.33 235.00,159.33" fill="#1f63d9"/><polygon points="237.12,155.33 233.62,162.33 240.62,162.33" fill="#1f63d9"/><polygon points="242.75,151.33 239.25,158.33 246.25,158.33" fill="#1f63d9"/><polygon points="248.38,144.53 244.88,151.53 251.88,151.53" fill="#1f63d9"/><polygon points="254.00,142.83 250.50,149.83 257.50,149.83" fill="#1f63d9"/><polygon points="259.62,147.33 256.12,154.33 263.12,154.33" fill="#1f63d9"/><polygon points="265.25,152.33 261.75,159.33 268.75,159.33" fill="#1f63d9"/><polygon points="270.88,151.33 267.38,158.33 274.38,158.33" fill="#1f63d9"/><polygon points="276.50,146.33 273.00,153.33 280.00,153.33" fill="#1f63d9"/><polygon points="282.12,140.93 278.62,147.93 285.62,147.93" fill="#1f63d9"/><polygon points="287.75,138.33 284.25,145.33 291.25,145.33" fill="#1f63d9"/><polygon points="293.38,137.83 289.88,144.83 296.88,144.83" fill="#1f63d9"/><polygon points="299.00,135.33 295.50,142.33 302.50,142.33" fill="#1f63d9"/><polygon points="304.62,134.83 301.12,141.83 308.12,141.83" fill="#1f63d9"/><polygon points="310.25,136.83 306.75,143.83 313.75,143.83" fill="#1f63d9"/><polygon points="315.88,141.63 312.38,148.63 319.38,148.63" fill="#1f63d9"/><polygon points="321.50,147.33 318.00,154.33 325.00,154.33" fill="#1f63d9"/><polygon points="327.12,149.83 323.62,156.83 330.62,156.83" fill="#1f63d9"/><polygon points="332.75,149.83 329.25,156.83 336.25,156.83" fill="#1f63d9"/><polygon points="338.38,151.33 334.88,158.33 341.88,158.33" fill="#1f63d9"/><polygon points="344.00,151.33 340.50,158.33 347.50,158.33" fill="#1f63d9"/><polygon points="349.62,151.93 346.12,158.93 353.12,158.93" fill="#1f63d9"/><polygon points="355.25,152.83 351.75,159.83 358.75,159.83" fill="#1f63d9"/><polygon points="360.88,151.13 357.38,158.13 364.38,158.13" fill="#1f63d9"/><polygon points="366.50,150.83 363.00,157.83 370.00,157.83" fill="#1f63d9"/><polygon points="372.12,150.83 368.62,157.83 375.62,157.83" fill="#1f63d9"/><polygon points="377.75,152.03 374.25,159.03 381.25,159.03" fill="#1f63d9"/><polygon points="383.38,157.63 379.88,164.63 386.88,164.63" fill="#1f63d9"/><polygon points="389.00,174.93 385.50,181.93 392.50,181.93" fill="#1f63d9"/><polygon points="394.62,205.43 391.12,212.43 398.12,212.43" fill="#1f63d9"/><polygon points="400.25,241.33 396.75,248.33 403.75,248.33" fill="#1f63d9"/><polygon points="405.88,270.93 402.38,277.93 409.38,277.93" fill="#1f63d9"/><polygon points="411.50,279.83 408.00,286.83 415.00,286.83" fill="#1f63d9"/><polygon points="417.12,274.33 413.62,281.33 420.62,281.33" fill="#1f63d9"/><polygon points="422.75,266.33 419.25,273.33 426.25,273.33" fill="#1f63d9"/><polygon points="428.38,261.63 424.88,268.63 431.88,268.63" fill="#1f63d9"/><polygon points="434.00,269.33 430.50,276.33 437.50,276.33" fill="#1f63d9"/><polygon points="439.62,269.83 436.12,276.83 443.12,276.83" fill="#1f63d9"/><polygon points="445.25,269.83 441.75,276.83 448.75,276.83" fill="#1f63d9"/><polygon points="450.88,267.63 447.38,274.63 454.38,274.63" fill="#1f63d9"/><polygon points="456.50,269.83 453.00,276.83 460.00,276.83" fill="#1f63d9"/><polygon points="462.12,275.33 458.62,282.33 465.62,282.33" fill="#1f63d9"/><polygon points="467.75,280.93 464.25,287.93 471.25,287.93" fill="#1f63d9"/><polygon points="473.38,281.63 469.88,288.63 476.88,288.63" fill="#1f63d9"/><polygon points="479.00,277.63 475.50,284.63 482.50,284.63" fill="#1f63d9"/><polygon points="484.62,274.33 481.12,281.33 488.12,281.33" fill="#1f63d9"/><polygon points="490.25,270.93 486.75,277.93 493.75,277.93" fill="#1f63d9"/><polygon points="495.88,266.53 492.38,273.53 499.38,273.53" fill="#1f63d9"/><polygon points="501.50,259.83 498.00,266.83 505.00,266.83" fill="#1f63d9"/><polygon points="507.12,249.83 503.62,256.83 510.62,256.83" fill="#1f63d9"/><polygon points="512.75,240.83 509.25,247.83 516.25,247.83" fill="#1f63d9"/><polygon points="518.38,231.83 514.88,238.83 521.88,238.83" fill="#1f63d9"/><polygon points="524.00,223.03 520.50,230.03 527.50,230.03" fill="#1f63d9"/><polygon points="529.62,204.63 526.12,211.63 533.12,211.63" fill="#1f63d9"/><polygon points="535.25,186.33 531.75,193.33 538.75,193.33" fill="#1f63d9"/><polygon points="540.88,180.93 537.38,187.93 544.38,187.93" fill="#1f63d9"/><polygon points="546.50,183.73 543.00,190.73 550.00,190.73" fill="#1f63d9"/><polygon points="552.12,185.93 548.62,192.93 555.62,192.93" fill="#1f63d9"/><polygon points="557.75,181.53 554.25,188.53 561.25,188.53" fill="#1f63d9"/><polygon points="563.38,178.33 559.88,185.33 566.88,185.33" fill="#1f63d9"/><polygon points="569.00,179.83 565.50,186.83 572.50,186.83" fill="#1f63d9"/><polygon points="574.62,192.63 571.12,199.63 578.12,199.63" fill="#1f63d9"/><polygon points="580.25,198.23 576.75,205.23 583.75,205.23" fill="#1f63d9"/><polygon points="585.88,196.53 582.38,203.53 589.38,203.53" fill="#1f63d9"/><polygon points="591.50,189.83 588.00,196.83 595.00,196.83" fill="#1f63d9"/><polygon points="597.12,199.33 593.62,206.33 600.62,206.33" fill="#1f63d9"/><polygon points="602.75,233.73 599.25,240.73 606.25,240.73" fill="#1f63d9"/><polygon points="608.38,274.53 604.88,281.53 611.88,281.53" fill="#1f63d9"/><polygon points="614.00,288.93 610.50,295.93 617.50,295.93" fill="#1f63d9"/><polygon points="619.62,261.33 616.12,268.33 623.12,268.33" fill="#1f63d9"/></g>
<g><path d="M96.5 12.80 V466.8 H660" fill="none" stroke="#000" stroke-width="2.2" stroke-linejoin="miter"/><line x1="96.5" y1="13.90" x2="104.5" y2="13.90" stroke="#000" stroke-width="2"/><text transform="translate(86.8,23.80) scale(1,1.06)" text-anchor="end">0.0</text><line x1="96.5" y1="89.32" x2="104.5" y2="89.32" stroke="#000" stroke-width="2"/><text transform="translate(84.8,99.22) scale(0.96,1.06)" text-anchor="end">-0.5</text><line x1="96.5" y1="164.74" x2="104.5" y2="164.74" stroke="#000" stroke-width="2"/><text transform="translate(86.8,174.64) scale(1,1.06)" text-anchor="end">-1.0</text><line x1="96.5" y1="240.16" x2="104.5" y2="240.16" stroke="#000" stroke-width="2"/><text transform="translate(84.8,250.06) scale(0.96,1.06)" text-anchor="end">-1.5</text><line x1="96.5" y1="315.58" x2="104.5" y2="315.58" stroke="#000" stroke-width="2"/><text transform="translate(86.8,325.48) scale(1,1.06)" text-anchor="end">-2.0</text><line x1="96.5" y1="391.00" x2="104.5" y2="391.00" stroke="#000" stroke-width="2"/><text transform="translate(84.8,400.90) scale(0.96,1.06)" text-anchor="end">-2.5</text><text transform="translate(86.8,476.32) scale(1,1.06)" text-anchor="end">-3.0</text><text transform="translate(96.50,501.8) scale(1,1.06)" text-anchor="middle">0</text><line x1="209.00" y1="466.8" x2="209.00" y2="458.8" stroke="#000" stroke-width="2"/><text transform="translate(209.00,501.8) scale(1,1.06)" text-anchor="middle">20</text><line x1="321.50" y1="466.8" x2="321.50" y2="458.8" stroke="#000" stroke-width="2"/><text transform="translate(321.50,501.8) scale(1,1.06)" text-anchor="middle">40</text><line x1="434.00" y1="466.8" x2="434.00" y2="458.8" stroke="#000" stroke-width="2"/><text transform="translate(434.00,501.8) scale(1,1.06)" text-anchor="middle">60</text><line x1="546.50" y1="466.8" x2="546.50" y2="458.8" stroke="#000" stroke-width="2"/><text transform="translate(546.50,501.8) scale(1,1.06)" text-anchor="middle">80</text><line x1="659.00" y1="466.8" x2="659.00" y2="458.8" stroke="#000" stroke-width="2"/><text transform="translate(659.00,501.8) scale(1,1.06)" text-anchor="middle">100</text><text x="378" y="537.3" text-anchor="middle">Time</text><text transform="translate(23.7,240.2) rotate(-90)" text-anchor="middle">Amplitude</text></g>
<g><rect x="108" y="244.5" width="284" height="202.5" fill="#fff" stroke="#000" stroke-width="1.6"/><line x1="111" y1="266.50" x2="184.6" y2="266.50" stroke="#4d4d4d" stroke-width="2"/><rect x="142.40" y="261.20" width="10.6" height="10.6" fill="#4d4d4d"/><text x="192.2" y="277.30">Original Signal</text><line x1="111" y1="306.05" x2="184.6" y2="306.05" stroke="#00f500" stroke-width="2"/><circle cx="147.70" cy="306.05" r="5.8" fill="#00f500"/><text x="192.2" y="316.85">50Hz</text><line x1="111" y1="345.60" x2="184.6" y2="345.60" stroke="#00ffff" stroke-width="2"/><rect x="142.40" y="340.30" width="10.6" height="10.6" fill="#00ffff"/><text x="192.2" y="356.40">100Hz</text><line x1="111" y1="385.15" x2="184.6" y2="385.15" stroke="#eb4141" stroke-width="2"/><circle cx="147.70" cy="385.15" r="5.8" fill="#eb4141"/><text x="192.2" y="395.95">150Hz</text><line x1="111" y1="424.70" x2="184.6" y2="424.70" stroke="#1f63d9" stroke-width="2"/><polygon points="147.70,416.97 140.20,429.17 155.20,429.17" fill="#1f63d9"/><text x="192.2" y="435.50">200Hz</text></g>
</svg>
</body></html>
